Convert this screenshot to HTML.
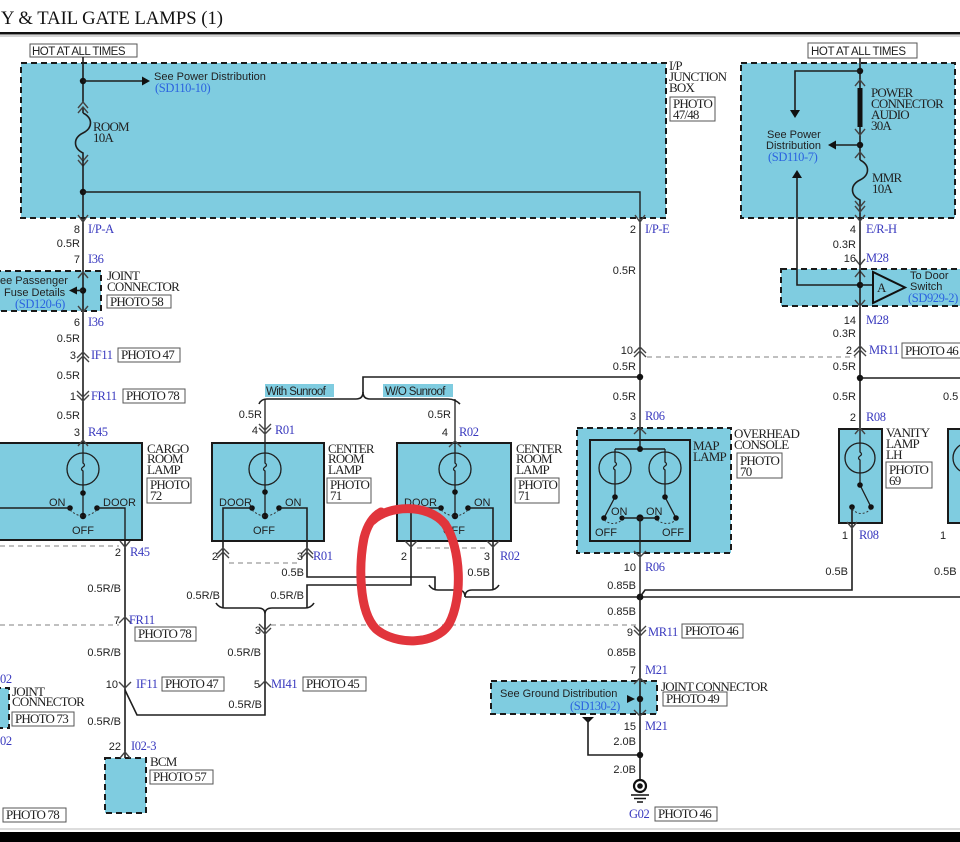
<!DOCTYPE html>
<html><head><meta charset="utf-8"><style>
html,body{margin:0;padding:0;background:#fff;}
svg{display:block}
.s{font-family:"Liberation Sans",sans-serif;font-size:11px;fill:#222}
.r{font-family:"Liberation Serif",serif;font-size:13px;fill:#222;letter-spacing:-0.8px}
.b{font-family:"Liberation Serif",serif;font-size:12.5px;fill:#3a3abf;letter-spacing:-0.4px}
.sd{font-family:"Liberation Serif",serif;font-size:12.5px;fill:#2b63e0;letter-spacing:-0.4px}
.w{stroke:#1e1e1e;stroke-width:1.6;fill:none}
.c{stroke:#444;stroke-width:1.4;fill:none}
.d{stroke:#9a9a9a;stroke-width:1.2;stroke-dasharray:5 4;fill:none}
.da{stroke:#333;stroke-width:1;stroke-dasharray:2 2;fill:none}
.box{fill:#7fcce0;stroke:#1a1a1a;stroke-width:2;stroke-dasharray:6 4}
.sol{fill:#7fcce0;stroke:#1a1a1a;stroke-width:2}
.ph{fill:#fff;stroke:#555;stroke-width:1}
.bulb{fill:none;stroke:#1e1e1e;stroke-width:1.3}
</style></head><body>
<svg width="960" height="842" viewBox="0 0 960 842" xmlns="http://www.w3.org/2000/svg">
<rect width="960" height="842" fill="#fff"/>

<!-- Title -->
<text x="1" y="24" font-family="Liberation Serif, serif" font-size="19" textLength="222" lengthAdjust="spacingAndGlyphs" fill="#111">Y &amp; TAIL GATE LAMPS (1)</text>
<rect x="0" y="32" width="960" height="2.5" fill="#111"/>
<line x1="0" y1="36" x2="960" y2="36" stroke="#aaa" stroke-width="1"/>

<!-- ===== Boxes (backgrounds) ===== -->
<rect x="21" y="63" width="645" height="155" class="box"/>
<rect x="741" y="63" width="214" height="155" class="box"/>
<rect x="-5" y="271" width="106" height="40" class="box"/>
<rect x="781" y="269" width="185" height="37" class="box"/>
<rect x="-5" y="443" width="147" height="97" class="sol"/>
<rect x="212" y="443" width="112" height="98" class="sol"/>
<rect x="397" y="443" width="114" height="98" class="sol"/>
<rect x="577" y="428" width="154" height="125" class="box"/>
<rect x="590" y="440" width="100" height="101" fill="none" stroke="#1a1a1a" stroke-width="2"/>
<rect x="839" y="429" width="43" height="94" class="sol"/>
<rect x="948" y="429" width="20" height="94" class="sol"/>
<rect x="491" y="681" width="166" height="33" class="box"/>
<rect x="105" y="758" width="41" height="55" class="box"/>
<rect x="-5" y="688" width="14" height="40" class="box"/>

<!-- HOT AT ALL TIMES -->
<rect x="30" y="44" width="107" height="13" class="ph"/>
<text x="32" y="55" class="s" style="font-size:11.5px;letter-spacing:-0.5px">HOT AT ALL TIMES</text>
<rect x="808" y="43" width="109" height="15" class="ph"/>
<text x="811" y="55" class="s" style="font-size:11.5px;letter-spacing:-0.4px">HOT AT ALL TIMES</text>

<!-- ===== Left I/P junction box internals ===== -->
<path class="w" d="M83,57 V103 M83,108 V113"/>
<path class="w" d="M83,113 C93,118 93,128 83,133 C73,138 73,148 83,153 V160"/>
<path class="c" d="M78,108 L83,102 L88,108 M78,113 L83,107 L88,113"/>
<path class="c" d="M78,155 L83,161 L88,155 M78,160 L83,166 L88,160"/>
<path class="w" d="M83,160 V443"/>
<circle cx="83" cy="81" r="3.2" fill="#111"/>
<path class="w" d="M83,81 H143"/>
<polygon points="142,76.5 150,81 142,85.5" fill="#111"/>
<text x="154" y="80" class="s">See Power Distribution</text>
<text x="155" y="92" class="sd">(SD110-10)</text>
<text x="93" y="131" class="r">ROOM</text>
<text x="93" y="142" class="r">10A</text>
<circle cx="83" cy="192" r="3.2" fill="#111"/>
<path class="w" d="M83,192 H640 V428" style="stroke-width:1.4"/>
<path class="c" d="M78,215 L83,222 L88,215"/>
<path class="c" d="M635,215 L640,222 L645,215"/>

<text x="669" y="70" class="r">I/P</text>
<text x="669" y="81" class="r">JUNCTION</text>
<text x="669" y="92" class="r">BOX</text>
<rect x="670" y="97" width="45" height="24" class="ph"/>
<text x="673" y="108" class="r">PHOTO</text>
<text x="673" y="119" class="r">47/48</text>

<!-- ===== Left column x=83 ===== -->
<text x="80" y="233" text-anchor="end" class="s">8</text>
<text x="88" y="233" class="b">I/P-A</text>
<text x="80" y="247" text-anchor="end" class="s">0.5R</text>
<text x="80" y="263" text-anchor="end" class="s">7</text>
<text x="88" y="263" class="b">I36</text>
<path class="c" d="M78,278 L83,272 L88,278"/>
<path class="c" d="M78,306 L83,312 L88,306"/>
<text x="0" y="284" class="s">ee Passenger</text>
<text x="4" y="296" class="s">Fuse Details</text>
<text x="15" y="308" class="sd">(SD120-6)</text>
<polygon points="77,286.5 69,290.5 77,294.5" fill="#111"/>
<circle cx="83" cy="290.5" r="3.2" fill="#111"/>
<path class="w" d="M77,290.5 H83"/>
<text x="107" y="280" class="r">JOINT</text>
<text x="107" y="291" class="r">CONNECTOR</text>
<rect x="107" y="295" width="64" height="13" class="ph"/>
<text x="110" y="306" class="r">PHOTO 58</text>
<text x="80" y="326" text-anchor="end" class="s">6</text>
<text x="88" y="326" class="b">I36</text>
<text x="80" y="342" text-anchor="end" class="s">0.5R</text>
<path class="c" d="M77,358 L83,352 L89,358 M77,362 L83,356 L89,362"/>
<text x="76" y="359" text-anchor="end" class="s">3</text>
<text x="91" y="359" class="b">IF11</text>
<rect x="118" y="348" width="62" height="14" class="ph"/>
<text x="121" y="359" class="r">PHOTO 47</text>
<text x="80" y="379" text-anchor="end" class="s">0.5R</text>
<path class="c" d="M77,391 L83,397 L89,391 M77,395 L83,401 L89,395"/>
<text x="76" y="400" text-anchor="end" class="s">1</text>
<text x="91" y="400" class="b">FR11</text>
<rect x="123" y="389" width="62" height="14" class="ph"/>
<text x="126" y="400" class="r">PHOTO 78</text>
<text x="80" y="419" text-anchor="end" class="s">0.5R</text>
<text x="80" y="436" text-anchor="end" class="s">3</text>
<text x="88" y="436" class="b">R45</text>
<path class="c" d="M78,446 L83,440 L88,446"/>

<!-- Cargo room lamp -->
<circle cx="83" cy="469" r="16" class="bulb"/>
<path class="w" d="M83,443 V463 Q86,465 83,467 Q80,469 83,471 V516" style="stroke-width:1.3"/>
<circle cx="83" cy="493" r="2.8" fill="#111"/>
<circle cx="70" cy="508" r="2.8" fill="#111"/>
<circle cx="97" cy="508" r="2.8" fill="#111"/>
<circle cx="83" cy="516" r="3.2" fill="#111"/>
<path class="da" d="M70,510 Q83,522 97,510"/>
<path class="w" d="M70,508 H-5 M97,508 H125 V540" style="stroke-width:1.4"/>
<text x="49" y="506" class="s">ON</text>
<text x="103" y="506" class="s">DOOR</text>
<text x="72" y="534" class="s">OFF</text>
<text x="147" y="453" class="r">CARGO</text>
<text x="147" y="463" class="r">ROOM</text>
<text x="147" y="474" class="r">LAMP</text>
<rect x="147" y="478" width="44" height="25" class="ph"/>
<text x="150" y="489" class="r">PHOTO</text>
<text x="150" y="500" class="r">72</text>

<!-- Column x=125 -->
<path class="w" d="M125,540 V758"/>
<path class="c" d="M120,541 L125,547 L130,541"/>
<path class="d" d="M0,546 H119"/>
<text x="121" y="556" text-anchor="end" class="s">2</text>
<text x="130" y="556" class="b">R45</text>
<text x="121" y="592" text-anchor="end" class="s">0.5R/B</text>
<path class="c" d="M119,623 L125,617 L131,623"/>
<path class="d" d="M0,625 H119"/>
<text x="120" y="624" text-anchor="end" class="s">7</text>
<text x="129" y="624" class="b">FR11</text>
<rect x="135" y="627" width="61" height="14" class="ph"/>
<text x="138" y="638" class="r">PHOTO 78</text>
<text x="121" y="656" text-anchor="end" class="s">0.5R/B</text>
<path class="c" d="M119,682 L125,688 L131,682"/>
<text x="118" y="688" text-anchor="end" class="s">10</text>
<text x="136" y="688" class="b">IF11</text>
<rect x="162" y="677" width="62" height="14" class="ph"/>
<text x="165" y="688" class="r">PHOTO 47</text>
<text x="121" y="725" text-anchor="end" class="s">0.5R/B</text>
<path class="c" d="M120,758 L125,752 L130,758"/>
<text x="121" y="750" text-anchor="end" class="s">22</text>
<text x="131" y="750" class="b">I02-3</text>
<text x="150" y="766" class="r">BCM</text>
<rect x="150" y="770" width="63" height="14" class="ph"/>
<text x="153" y="781" class="r">PHOTO 57</text>
<path class="w" d="M125,690 L137,715 H265 V614"/>

<!-- left partial joint connector -->
<text x="0" y="683" class="b">02</text>
<text x="0" y="745" class="b">02</text>
<text x="12" y="696" class="r">JOINT</text>
<text x="12" y="706" class="r">CONNECTOR</text>
<rect x="12" y="712" width="62" height="14" class="ph"/>
<text x="15" y="723" class="r">PHOTO 73</text>
<rect x="3" y="808" width="63" height="14" class="ph"/>
<text x="6" y="819" class="r">PHOTO 78</text>

<!-- ===== Sunroof split ===== -->
<path class="w" d="M640,377 H363 V393"/>
<path class="w" d="M259,404 Q261,399 267,399 H356 Q363,399 363,392 Q363,399 370,399 H448 Q455,399 460,404"/>
<rect x="265" y="384" width="69" height="13" fill="#7fcce0"/>
<text x="266" y="395" class="s" style="font-size:11.5px;letter-spacing:-0.6px">With Sunroof</text>
<rect x="383" y="384" width="70" height="13" fill="#7fcce0"/>
<text x="385" y="395" class="s" style="font-size:11.5px;letter-spacing:-0.6px">W/O Sunroof</text>
<text x="262" y="418" text-anchor="end" class="s">0.5R</text>
<text x="451" y="418" text-anchor="end" class="s">0.5R</text>
<text x="258" y="434" text-anchor="end" class="s">4</text>
<text x="275" y="434" class="b">R01</text>
<text x="448" y="436" text-anchor="end" class="s">4</text>
<text x="459" y="436" class="b">R02</text>

<!-- Center room lamp 1 -->
<path class="w" d="M265,399 V463 Q268,465 265,467 Q262,469 265,471 V516" style="stroke-width:1.3"/>
<path class="c" d="M259,424 L265,430 L271,424 M259,428 L265,434 L271,428"/>
<circle cx="265" cy="469" r="16" class="bulb"/>
<circle cx="265" cy="492" r="2.8" fill="#111"/>
<circle cx="252" cy="508" r="2.8" fill="#111"/>
<circle cx="279" cy="508" r="2.8" fill="#111"/>
<circle cx="265" cy="516" r="3.2" fill="#111"/>
<path class="da" d="M252,510 Q265,522 279,510"/>
<text x="219" y="506" class="s">DOOR</text>
<text x="285" y="506" class="s">ON</text>
<text x="253" y="534" class="s">OFF</text>
<text x="328" y="453" class="r">CENTER</text>
<text x="328" y="463" class="r">ROOM</text>
<text x="328" y="474" class="r">LAMP</text>
<rect x="327" y="478" width="44" height="25" class="ph"/>
<text x="330" y="489" class="r">PHOTO</text>
<text x="330" y="500" class="r">71</text>

<!-- Center room lamp 2 -->
<path class="w" d="M455,399 V463 Q458,465 455,467 Q452,469 455,471 V516" style="stroke-width:1.3"/>
<path class="c" d="M449,447 L455,441 L461,447"/>
<circle cx="455" cy="469" r="16" class="bulb"/>
<circle cx="455" cy="492" r="2.8" fill="#111"/>
<circle cx="441" cy="508" r="2.8" fill="#111"/>
<circle cx="468" cy="508" r="2.8" fill="#111"/>
<circle cx="455" cy="516" r="3.2" fill="#111"/>
<path class="da" d="M441,510 Q455,522 468,510"/>
<text x="404" y="506" class="s">DOOR</text>
<text x="474" y="506" class="s">ON</text>
<text x="443" y="534" class="s">OFF</text>
<text x="516" y="453" class="r">CENTER</text>
<text x="516" y="463" class="r">ROOM</text>
<text x="516" y="474" class="r">LAMP</text>
<rect x="515" y="478" width="44" height="25" class="ph"/>
<text x="518" y="489" class="r">PHOTO</text>
<text x="518" y="500" class="r">71</text>

<!-- lamp wiring -->
<path class="w" d="M252,508 H223 V608"/>
<path class="w" d="M279,508 H307 V577 H435 V590"/>
<path class="w" d="M441,508 H411 V585 H307 V608"/>
<path class="w" d="M468,508 H493 V590"/>
<path class="c" d="M217,554 L223,548 L229,554 M217,558 L223,552 L229,558"/>
<path class="c" d="M301,554 L307,548 L313,554 M301,558 L307,552 L313,558"/>
<path class="c" d="M405,541 L411,547 L417,541"/>
<path class="c" d="M487,541 L493,547 L499,541"/>
<path class="d" d="M229,563 H300"/>
<path class="d" d="M417,548 H488"/>
<text x="218" y="560" text-anchor="end" class="s">2</text>
<text x="303" y="560" text-anchor="end" class="s">3</text>
<text x="313" y="560" class="b">R01</text>
<text x="407" y="560" text-anchor="end" class="s">2</text>
<text x="490" y="560" text-anchor="end" class="s">3</text>
<text x="500" y="560" class="b">R02</text>
<text x="304" y="576" text-anchor="end" class="s">0.5B</text>
<text x="490" y="576" text-anchor="end" class="s">0.5B</text>
<text x="220" y="599" text-anchor="end" class="s">0.5R/B</text>
<text x="304" y="599" text-anchor="end" class="s">0.5R/B</text>
<path class="w" d="M216,603 Q219,608 225,608 H258 Q265,608 265,614 Q265,608 272,608 H305 Q311,608 314,603"/>
<path class="w" d="M429,585 Q432,590 438,590 H458 Q465,590 465,597 Q465,590 472,590 H490 Q496,590 499,585"/>
<path class="w" d="M465,597 H960"/>

<path class="c" d="M259,624 L265,630 L271,624 M259,628 L265,634 L271,628"/>
<path class="d" d="M271,625 H636"/>
<text x="261" y="634" text-anchor="end" class="s">3</text>
<text x="261" y="656" text-anchor="end" class="s">0.5R/B</text>
<path class="c" d="M259,687 L265,681 L271,687"/>
<text x="260" y="688" text-anchor="end" class="s">5</text>
<text x="271" y="688" class="b">MI41</text>
<rect x="303" y="677" width="63" height="14" class="ph"/>
<text x="306" y="688" class="r">PHOTO 45</text>
<text x="262" y="708" text-anchor="end" class="s">0.5R/B</text>

<!-- ===== Middle column x=640 ===== -->
<text x="636" y="233" text-anchor="end" class="s">2</text>
<text x="645" y="233" class="b">I/P-E</text>
<text x="636" y="274" text-anchor="end" class="s">0.5R</text>
<path class="c" d="M634,353 L640,347 L646,353 M634,357 L640,351 L646,357"/>
<text x="633" y="354" text-anchor="end" class="s">10</text>
<path class="d" d="M647,357 H856"/>
<text x="636" y="370" text-anchor="end" class="s">0.5R</text>
<circle cx="640" cy="377" r="3.2" fill="#111"/>
<text x="636" y="400" text-anchor="end" class="s">0.5R</text>
<text x="636" y="420" text-anchor="end" class="s">3</text>
<text x="645" y="420" class="b">R06</text>
<path class="c" d="M634,434 L640,428 L646,434"/>

<!-- overhead console / map lamp -->
<path class="w" d="M640,428 V449 M615,449 H665" style="stroke-width:1.4"/>
<circle cx="640" cy="449" r="3" fill="#111"/>
<path class="w" d="M615,449 V462 Q618,464 615,466 Q612,468 615,470 V497 L604,518" style="stroke-width:1.3"/>
<path class="w" d="M665,449 V462 Q668,464 665,466 Q662,468 665,470 V497 L676,518" style="stroke-width:1.3"/>
<circle cx="615" cy="468" r="16" class="bulb"/>
<circle cx="665" cy="468" r="16" class="bulb"/>
<circle cx="615" cy="497" r="2.8" fill="#111"/>
<circle cx="665" cy="497" r="2.8" fill="#111"/>
<circle cx="604" cy="518" r="2.8" fill="#111"/>
<circle cx="676" cy="518" r="2.8" fill="#111"/>
<circle cx="622" cy="518" r="2.6" fill="#111"/>
<circle cx="657" cy="518" r="2.6" fill="#111"/>
<circle cx="640" cy="518" r="3.6" fill="#111"/>
<path class="w" d="M622,518 H657 M640,518 V597" style="stroke-width:1.4"/>
<path class="da" d="M604,520 Q613,527 622,520 M657,520 Q667,527 676,520"/>
<text x="611" y="515" class="s">ON</text>
<text x="646" y="515" class="s">ON</text>
<text x="595" y="536" class="s">OFF</text>
<text x="662" y="536" class="s">OFF</text>
<text x="693" y="450" class="r">MAP</text>
<text x="693" y="461" class="r">LAMP</text>
<text x="734" y="438" class="r">OVERHEAD</text>
<text x="734" y="449" class="r">CONSOLE</text>
<rect x="737" y="453" width="45" height="25" class="ph"/>
<text x="740" y="465" class="r">PHOTO</text>
<text x="740" y="476" class="r">70</text>

<path class="c" d="M634,551 L640,557 L646,551"/>
<text x="636" y="571" text-anchor="end" class="s">10</text>
<text x="645" y="571" class="b">R06</text>
<text x="636" y="589" text-anchor="end" class="s">0.85B</text>
<circle cx="640" cy="597" r="3.4" fill="#111"/>
<path class="w" d="M640,597 V780"/>
<text x="636" y="615" text-anchor="end" class="s">0.85B</text>
<path class="c" d="M634,626 L640,632 L646,626 M634,630 L640,636 L646,630"/>
<text x="633" y="636" text-anchor="end" class="s">9</text>
<text x="648" y="636" class="b">MR11</text>
<rect x="682" y="624" width="61" height="14" class="ph"/>
<text x="685" y="635" class="r">PHOTO 46</text>
<text x="636" y="656" text-anchor="end" class="s">0.85B</text>
<text x="636" y="674" text-anchor="end" class="s">7</text>
<text x="645" y="674" class="b">M21</text>
<path class="c" d="M634,684 L640,678 L646,684"/>
<text x="500" y="697" class="s">See Ground Distribution</text>
<text x="570" y="710" class="sd">(SD130-2)</text>
<polygon points="627,695 635,699 627,703" fill="#111"/>
<circle cx="640" cy="699" r="3.2" fill="#111"/>
<text x="661" y="691" class="r">JOINT CONNECTOR</text>
<rect x="663" y="692" width="64" height="14" class="ph"/>
<text x="666" y="703" class="r">PHOTO 49</text>
<path class="c" d="M634,710 L640,716 L646,710"/>
<text x="636" y="730" text-anchor="end" class="s">15</text>
<text x="645" y="730" class="b">M21</text>
<polygon points="582,717 594,717 588,723" fill="#111"/>
<path class="w" d="M588,718 V755 H640"/>
<circle cx="640" cy="755" r="3.2" fill="#111"/>
<text x="636" y="745" text-anchor="end" class="s">2.0B</text>
<text x="636" y="773" text-anchor="end" class="s">2.0B</text>
<circle cx="640" cy="786" r="6" fill="none" stroke="#111" stroke-width="2.2"/>
<circle cx="640" cy="786" r="2.8" fill="#111"/>
<path d="M631,795 H649 M634,798.5 H646 M637,802 H643" stroke="#111" stroke-width="1.5"/>
<text x="629" y="818" class="b">G02</text>
<rect x="655" y="807" width="62" height="14" class="ph"/>
<text x="658" y="818" class="r">PHOTO 46</text>

<!-- ===== Right junction box ===== -->
<path class="w" d="M860,58 V88 M860,127 V160"/>
<rect x="857.5" y="88" width="5" height="39" fill="#111"/>
<path class="c" d="M855,86 L860,80 L865,86 M855,129 L860,135 L865,129"/>
<path class="c" d="M855,158 L860,152 L865,158"/>
<path class="w" d="M860,160 C870,165 870,175 860,180 C850,185 850,195 860,200 V264"/>
<path class="c" d="M855,201 L860,207 L865,201 M855,206 L860,212 L865,206"/>
<circle cx="860" cy="71" r="3.2" fill="#111"/>
<circle cx="860" cy="145" r="3.2" fill="#111"/>
<path class="w" d="M860,71 H795 V111"/>
<polygon points="790,110 800,110 795,118" fill="#111"/>
<path class="w" d="M860,145 H836"/>
<polygon points="836,140.5 828,145 836,149.5" fill="#111"/>
<text x="767" y="138" class="s">See Power</text>
<text x="766" y="149" class="s">Distribution</text>
<text x="768" y="161" class="sd">(SD110-7)</text>
<text x="871" y="97" class="r">POWER</text>
<text x="871" y="108" class="r">CONNECTOR</text>
<text x="871" y="119" class="r">AUDIO</text>
<text x="871" y="130" class="r">30A</text>
<text x="872" y="182" class="r">MMR</text>
<text x="872" y="193" class="r">10A</text>
<polygon points="792,178 797,170 802,178" fill="#111"/>
<path class="w" d="M797,178 V285 H860"/>

<text x="856" y="233" text-anchor="end" class="s">4</text>
<text x="866" y="233" class="b">E/R-H</text>
<path class="c" d="M855,215 L860,221 L865,215"/>
<text x="856" y="248" text-anchor="end" class="s">0.3R</text>
<text x="856" y="262" text-anchor="end" class="s">16</text>
<text x="866" y="262" class="b">M28</text>
<path class="c" d="M855,259 L860,265 L865,259 M855,277 L860,271 L865,277"/>
<path class="w" d="M860,264 V429"/>
<circle cx="860" cy="285" r="3.2" fill="#111"/>
<path class="w" d="M860,285 H873"/>
<polygon points="873,272 873,303 905,287.5" fill="none" stroke="#111" stroke-width="2"/>
<text x="877" y="292" class="r">A</text>
<text x="910" y="279" class="s">To Door</text>
<text x="910" y="290" class="s">Switch</text>
<text x="908" y="302" class="sd">(SD929-2)</text>
<path class="c" d="M855,300 L860,306 L865,300"/>
<text x="856" y="324" text-anchor="end" class="s">14</text>
<text x="866" y="324" class="b">M28</text>
<text x="856" y="337" text-anchor="end" class="s">0.3R</text>
<path class="c" d="M854,352 L860,346 L866,352 M854,356 L860,350 L866,356"/>
<text x="852" y="354" text-anchor="end" class="s">2</text>
<text x="869" y="354" class="b">MR11</text>
<rect x="902" y="343" width="60" height="15" class="ph"/>
<text x="905" y="355" class="r">PHOTO 46</text>
<text x="856" y="370" text-anchor="end" class="s">0.5R</text>
<circle cx="860" cy="378" r="3.2" fill="#111"/>
<path class="w" d="M860,378 H960"/>
<text x="856" y="400" text-anchor="end" class="s">0.5R</text>
<text x="943" y="400" class="s">0.5</text>
<text x="856" y="421" text-anchor="end" class="s">2</text>
<text x="866" y="421" class="b">R08</text>
<path class="c" d="M855,434 L860,428 L865,434"/>

<!-- Vanity LH -->
<circle cx="860" cy="458" r="15" class="bulb"/>
<path class="w" d="M860,429 V452 Q863,454 860,456 Q857,458 860,460 V485 L871,507" style="stroke-width:1.3"/>
<circle cx="860" cy="485" r="2.8" fill="#111"/>
<circle cx="871" cy="507" r="2.8" fill="#111"/>
<circle cx="852" cy="507" r="2.8" fill="#111"/>
<path class="da" d="M852,509 Q861,518 871,509"/>
<path class="w" d="M852,507 V590 H645 L640,597"/>
<path class="c" d="M847,522 L852,528 L857,522"/>
<text x="886" y="437" class="r">VANITY</text>
<text x="886" y="448" class="r">LAMP</text>
<text x="886" y="459" class="r">LH</text>
<rect x="886" y="462" width="46" height="26" class="ph"/>
<text x="889" y="474" class="r">PHOTO</text>
<text x="889" y="485" class="r">69</text>
<text x="848" y="539" text-anchor="end" class="s">1</text>
<text x="859" y="539" class="b">R08</text>
<text x="848" y="575" text-anchor="end" class="s">0.5B</text>
<circle cx="968" cy="458" r="15" class="bulb"/>
<text x="940" y="539" class="s">1</text>
<text x="934" y="575" class="s">0.5B</text>

<!-- Red annotation -->
<path d="M372,521 C388,505 428,503 445,524 C461,548 463,598 449,624 C436,645 396,646 376,629 C358,611 359,563 364,538 C367,526 372,517 381,512" fill="none" stroke="#e1353c" stroke-width="9" stroke-linecap="round" stroke-linejoin="round"/>

<!-- bottom -->
<line x1="0" y1="829" x2="960" y2="829" stroke="#bbb" stroke-width="1"/>
<rect x="0" y="832" width="960" height="10" fill="#000"/>
</svg>
</body></html>
